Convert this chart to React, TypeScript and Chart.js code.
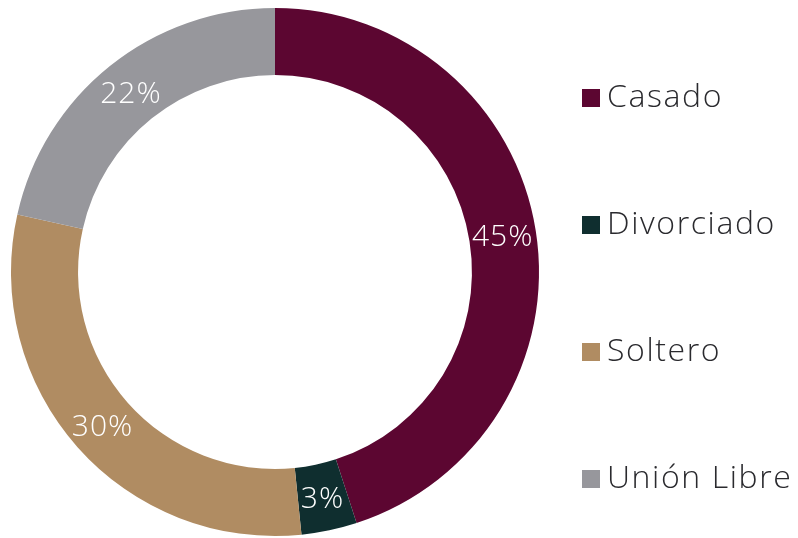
import React, { useEffect, useRef } from "react";
import { Chart, registerables } from "chart.js";

Chart.register(...registerables);

const categories = ["Casado", "Divorciado", "Soltero", "Unión Libre"];
const values = [45, 3.4, 30.1, 21.5];
const colors = ["#5c0631", "#0f2e2f", "#b08c62", "#97979c"];

const sliceLabels = {
  id: "sliceLabels",
  afterDatasetsDraw(chart: any) {
    const ctx = chart.ctx;
    const meta = chart.getDatasetMeta(0);
    const data = chart.data.datasets[0].data as number[];
    const total = data.reduce((a, b) => a + b, 0);
    ctx.save();
    ctx.fillStyle = "#ffffff";
    ctx.font = "300 30px 'Open Sans', Lato, sans-serif";
    (ctx as any).letterSpacing = "1px";
    ctx.textAlign = "center";
    ctx.textBaseline = "middle";
    meta.data.forEach((arc: any, i: number) => {
      const p = arc.getProps(["x", "y", "startAngle", "endAngle", "innerRadius", "outerRadius"], true);
      const a = (p.startAngle + p.endAngle) / 2;
      const r = (p.innerRadius + p.outerRadius) / 2;
      const x = p.x + Math.cos(a) * r;
      const y = p.y + Math.sin(a) * r + 2;
      ctx.fillText(Math.round((data[i] / total) * 100) + "%", x, y);
    });
    ctx.restore();
  },
};

const sideLegend = {
  id: "sideLegend",
  afterDraw(chart: any) {
    const ctx = chart.ctx;
    ctx.save();
    ctx.font = "300 32px 'Open Sans', Lato, sans-serif";
    (ctx as any).letterSpacing = "1.6px";
    ctx.textAlign = "left";
    ctx.textBaseline = "alphabetic";
    categories.forEach((c, i) => {
      const top = 89 + i * 127;
      ctx.fillStyle = colors[i];
      ctx.fillRect(582, top, 18, 18);
      ctx.fillStyle = "#2a2a2e";
      ctx.fillText(c, 607, top + 18);
    });
    ctx.restore();
  },
};

export default function App() {
  const ref = useRef<HTMLCanvasElement>(null);
  useEffect(() => {
    document.body.style.margin = "0";
    const chart = new Chart(ref.current!, {
      type: "doughnut",
      data: {
        labels: categories,
        datasets: [
          {
            data: values,
            backgroundColor: colors,
            borderWidth: 0,
          },
        ],
      },
      options: {
        animation: false,
        responsive: false,
        maintainAspectRatio: false,
        cutout: "74.6%",
        layout: { padding: { left: 11, right: 259, top: 8, bottom: 2 } },
        plugins: {
          legend: { display: false },
          tooltip: { enabled: false },
        },
      },
      plugins: [sliceLabels, sideLegend],
    });
    return () => chart.destroy();
  }, []);
  return (
    <div style={{ position: "relative", width: 798, height: 538, background: "#ffffff" }}>
      <canvas ref={ref} width={798} height={538} style={{ display: "block" }} />
    </div>
  );
}
